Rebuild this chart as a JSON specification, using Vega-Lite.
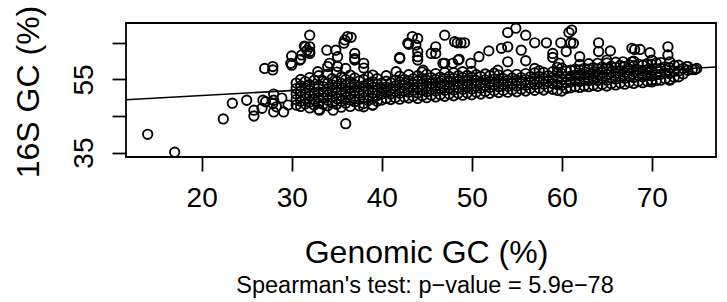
{
  "$schema": "https://vega.github.io/schema/vega-lite/v6.json",
  "autosize": {"type": "none"},
  "width": 590,
  "height": 134,
  "padding": {"left": 126, "top": 23, "right": 11, "bottom": 145},
  "background": "white",
  "config": {
    "view": {"stroke": "black", "strokeWidth": 1.8},
    "font": "Liberation Sans"
  },
  "title": {
    "text": "Spearman's test: p\u2212value = 5.9e\u221278",
    "orient": "bottom",
    "anchor": "middle",
    "fontSize": 23.5,
    "fontWeight": "normal",
    "font": "Liberation Sans",
    "color": "black",
    "offset": 6,
    "dx": 4
  },
  "datasets": {
    "fit": [{"x": 11.59, "y": 49.45}, {"x": 77.14, "y": 58.4}],
    "pts": [
      {"x":14.0,"y":40.0},{"x":17.0,"y":35.1},{"x":22.4,"y":44.2},{"x":23.4,"y":48.5},{"x":25.0,"y":49.3},{"x":25.8,"y":46.6},{"x":25.8,"y":45.0},{"x":26.7,"y":47.1},{"x":26.8,"y":49.3},{"x":27.0,"y":58.0},{"x":27.9,"y":58.5},{"x":27.9,"y":57.6},{"x":28.0,"y":51.0},{"x":28.0,"y":49.3},{"x":27.9,"y":48.4},{"x":27.1,"y":48.9},{"x":28.0,"y":46.1},{"x":28.3,"y":47.5},{"x":28.9,"y":49.9},{"x":29.1,"y":46.1},{"x":29.6,"y":48.0},{"x":29.9,"y":59.4},{"x":30.0,"y":61.4},{"x":30.0,"y":58.9},{"x":30.9,"y":60.3},{"x":31.1,"y":61.7},{"x":31.4,"y":64.1},{"x":31.5,"y":63.9},{"x":31.7,"y":63.0},{"x":32.0,"y":67.1},{"x":32.0,"y":63.9},{"x":32.0,"y":62.6},{"x":32.0,"y":62.1},{"x":31.0,"y":60.5},
      {"x":33.9,"y":63.0},{"x":34.9,"y":63.0},{"x":35.1,"y":61.2},{"x":34.2,"y":59.4},{"x":36.2,"y":66.7},{"x":36.6,"y":66.5},{"x":35.8,"y":64.9},{"x":37.0,"y":62.1},{"x":37.0,"y":60.3},{"x":38.0,"y":59.4},{"x":32.9,"y":57.1},{"x":34.0,"y":58.5},{"x":35.1,"y":58.5},{"x":36.0,"y":58.0},{"x":39.0,"y":56.2},{"x":42.0,"y":61.0},{"x":41.6,"y":57.1},{"x":42.9,"y":64.9},{"x":43.4,"y":66.7},{"x":44.0,"y":66.2},{"x":43.8,"y":64.4},{"x":44.0,"y":62.6},{"x":44.0,"y":61.2},{"x":44.0,"y":60.3},{"x":44.6,"y":57.5},{"x":36.0,"y":42.9},{"x":34.6,"y":46.6},{"x":33.1,"y":46.6},{"x":38.0,"y":47.5},{"x":39.0,"y":48.0},{"x":35.9,"y":65.8},{"x":38.0,"y":58.1},{"x":37.0,"y":60.7},
      {"x":47.0,"y":67.1},{"x":48.1,"y":65.3},{"x":48.4,"y":65.0},{"x":48.8,"y":65.0},{"x":49.2,"y":65.0},{"x":46.0,"y":63.9},{"x":45.5,"y":62.1},{"x":46.0,"y":62.1},{"x":48.6,"y":60.5},{"x":47.0,"y":59.4},{"x":47.9,"y":59.4},{"x":49.9,"y":59.4},{"x":50.8,"y":61.2},{"x":51.9,"y":62.8},{"x":53.3,"y":63.5},{"x":54.0,"y":67.8},{"x":54.9,"y":69.0},{"x":54.0,"y":63.9},{"x":56.0,"y":67.1},{"x":55.5,"y":63.0},{"x":57.0,"y":65.0},{"x":58.3,"y":65.0},{"x":54.0,"y":59.8},{"x":56.0,"y":60.1},{"x":57.0,"y":58.0},{"x":59.0,"y":62.1},{"x":59.0,"y":61.0},{"x":59.7,"y":59.4},{"x":59.9,"y":65.0},{"x":60.8,"y":67.8},{"x":61.0,"y":65.0},{"x":60.5,"y":62.6},{"x":52.9,"y":57.5},{"x":46.8,"y":59.4},{"x":48.5,"y":60.3},{"x":42.0,"y":60.7},{"x":43.0,"y":64.6},
      {"x":61.1,"y":68.5},{"x":61.3,"y":64.9},{"x":62.0,"y":61.2},{"x":64.1,"y":65.0},{"x":64.1,"y":62.6},{"x":65.4,"y":62.8},{"x":66.8,"y":59.8},{"x":67.8,"y":63.5},{"x":68.1,"y":63.2},{"x":68.7,"y":63.2},{"x":69.8,"y":62.3},{"x":67.8,"y":59.8},{"x":71.8,"y":63.9},{"x":71.8,"y":61.7},{"x":65.0,"y":60.3},{"x":73.0,"y":58.9},{"x":73.9,"y":58.5},{"x":74.8,"y":57.7},{"x":73.0,"y":55.7},{"x":72.0,"y":54.8},{"x":70.0,"y":54.8},
      {"x":30.5,"y":48.0},{"x":30.5,"y":49.5},{"x":30.5,"y":51.0},{"x":30.5,"y":52.5},{"x":30.5,"y":54.0},
      {"x":31.0,"y":47.6},{"x":31.0,"y":49.0},{"x":31.0,"y":50.3},{"x":31.0,"y":51.8},{"x":31.0,"y":53.2},{"x":31.0,"y":55.0},
      {"x":31.5,"y":48.3},{"x":31.5,"y":49.8},{"x":31.5,"y":51.2},{"x":31.5,"y":52.6},{"x":31.5,"y":54.4},
      {"x":32.0,"y":47.2},{"x":32.0,"y":48.8},{"x":32.0,"y":50.5},{"x":32.0,"y":52.0},{"x":32.0,"y":53.6},{"x":32.0,"y":55.5},
      {"x":32.5,"y":48.0},{"x":32.5,"y":49.6},{"x":32.5,"y":51.3},{"x":32.5,"y":52.9},{"x":32.5,"y":54.8},
      {"x":33.0,"y":46.8},{"x":33.0,"y":48.5},{"x":33.0,"y":50.0},{"x":33.0,"y":51.6},{"x":33.0,"y":53.3},{"x":33.0,"y":56.0},
      {"x":33.5,"y":48.2},{"x":33.5,"y":49.9},{"x":33.5,"y":51.5},{"x":33.5,"y":53.0},{"x":33.5,"y":54.6},
      {"x":34.0,"y":47.8},{"x":34.0,"y":49.3},{"x":34.0,"y":50.8},{"x":34.0,"y":52.4},{"x":34.0,"y":54.0},{"x":34.0,"y":56.4},
      {"x":34.5,"y":48.6},{"x":34.5,"y":50.2},{"x":34.5,"y":51.9},{"x":34.5,"y":53.5},{"x":34.5,"y":55.2},
      {"x":35.0,"y":48.2},{"x":35.0,"y":49.7},{"x":35.0,"y":51.3},{"x":35.0,"y":52.8},{"x":35.0,"y":54.5},{"x":35.0,"y":57.0},
      {"x":35.5,"y":47.4},{"x":35.5,"y":49.0},{"x":35.5,"y":50.6},{"x":35.5,"y":52.2},{"x":35.5,"y":53.9},{"x":35.5,"y":55.6},
      {"x":36.0,"y":48.5},{"x":36.0,"y":50.1},{"x":36.0,"y":51.7},{"x":36.0,"y":53.4},{"x":36.0,"y":55.0},
      {"x":36.5,"y":47.6},{"x":36.5,"y":49.4},{"x":36.5,"y":51.0},{"x":36.5,"y":52.7},{"x":36.5,"y":54.3},{"x":36.5,"y":56.2},
      {"x":37.0,"y":48.9},{"x":37.0,"y":50.4},{"x":37.0,"y":52.0},{"x":37.0,"y":53.6},{"x":37.0,"y":55.4},
      {"x":37.5,"y":47.8},{"x":37.5,"y":49.6},{"x":37.5,"y":51.2},{"x":37.5,"y":52.9},{"x":37.5,"y":54.6},
      {"x":38.0,"y":48.4},{"x":38.0,"y":50.0},{"x":38.0,"y":51.6},{"x":38.0,"y":53.2},{"x":38.0,"y":55.0},
      {"x":38.5,"y":49.2},{"x":38.5,"y":50.7},{"x":38.5,"y":52.3},{"x":38.5,"y":53.9},{"x":38.5,"y":55.7},
      {"x":39.0,"y":48.0},{"x":39.0,"y":49.7},{"x":39.0,"y":51.3},{"x":39.0,"y":52.8},{"x":39.0,"y":54.4},
      {"x":39.5,"y":49.0},{"x":39.5,"y":50.6},{"x":39.5,"y":52.1},{"x":39.5,"y":53.7},{"x":39.5,"y":55.2},
      {"x":40.0,"y":49.4},{"x":40.0,"y":51.0},{"x":40.0,"y":52.5},{"x":40.0,"y":54.0},
      {"x":40.5,"y":49.8},{"x":40.5,"y":51.4},{"x":40.5,"y":52.9},{"x":40.5,"y":54.5},{"x":40.5,"y":56.0},
      {"x":41.0,"y":49.5},{"x":41.0,"y":51.0},{"x":41.0,"y":52.6},{"x":41.0,"y":54.1},
      {"x":41.5,"y":50.0},{"x":41.5,"y":51.6},{"x":41.5,"y":53.2},{"x":41.5,"y":54.8},
      {"x":42.0,"y":49.6},{"x":42.0,"y":51.2},{"x":42.0,"y":52.7},{"x":42.0,"y":54.3},{"x":42.0,"y":55.9},
      {"x":42.5,"y":50.2},{"x":42.5,"y":51.8},{"x":42.5,"y":53.4},{"x":42.5,"y":55.0},
      {"x":43.0,"y":49.9},{"x":43.0,"y":51.5},{"x":43.0,"y":53.0},{"x":43.0,"y":54.6},{"x":43.0,"y":56.3},
      {"x":43.5,"y":50.4},{"x":43.5,"y":52.0},{"x":43.5,"y":53.6},{"x":43.5,"y":55.2},
      {"x":44.0,"y":49.8},{"x":44.0,"y":51.3},{"x":44.0,"y":52.9},{"x":44.0,"y":54.5},{"x":44.0,"y":56.0},
      {"x":44.5,"y":50.5},{"x":44.5,"y":52.1},{"x":44.5,"y":53.7},{"x":44.5,"y":55.3},{"x":44.5,"y":57.0},
      {"x":45.0,"y":50.0},{"x":45.0,"y":51.6},{"x":45.0,"y":53.2},{"x":45.0,"y":54.8},{"x":45.0,"y":56.4},
      {"x":45.5,"y":50.7},{"x":45.5,"y":52.3},{"x":45.5,"y":53.9},{"x":45.5,"y":55.5},
      {"x":46.0,"y":50.2},{"x":46.0,"y":51.8},{"x":46.0,"y":53.4},{"x":46.0,"y":55.0},{"x":46.0,"y":56.6},
      {"x":46.5,"y":50.8},{"x":46.5,"y":52.4},{"x":46.5,"y":54.0},{"x":46.5,"y":55.6},
      {"x":47.0,"y":50.4},{"x":47.0,"y":52.0},{"x":47.0,"y":53.6},{"x":47.0,"y":55.2},{"x":47.0,"y":56.9},
      {"x":47.5,"y":51.0},{"x":47.5,"y":52.6},{"x":47.5,"y":54.2},{"x":47.5,"y":55.8},
      {"x":48.0,"y":50.5},{"x":48.0,"y":52.1},{"x":48.0,"y":53.7},{"x":48.0,"y":55.3},{"x":48.0,"y":56.8},
      {"x":48.5,"y":51.2},{"x":48.5,"y":52.8},{"x":48.5,"y":54.4},{"x":48.5,"y":56.0},
      {"x":49.0,"y":50.7},{"x":49.0,"y":52.3},{"x":49.0,"y":53.9},{"x":49.0,"y":55.5},{"x":49.0,"y":57.1},
      {"x":49.5,"y":51.3},{"x":49.5,"y":52.9},{"x":49.5,"y":54.5},{"x":49.5,"y":56.1},
      {"x":50.0,"y":50.8},{"x":50.0,"y":52.4},{"x":50.0,"y":54.0},{"x":50.0,"y":55.6},{"x":50.0,"y":57.2},
      {"x":50.5,"y":51.5},{"x":50.5,"y":53.1},{"x":50.5,"y":54.7},{"x":50.5,"y":56.3},
      {"x":51.0,"y":51.0},{"x":51.0,"y":52.6},{"x":51.0,"y":54.2},{"x":51.0,"y":55.8},
      {"x":51.5,"y":51.7},{"x":51.5,"y":53.3},{"x":51.5,"y":54.9},{"x":51.5,"y":56.5},
      {"x":52.0,"y":51.2},{"x":52.0,"y":52.8},{"x":52.0,"y":54.4},{"x":52.0,"y":56.0},
      {"x":52.5,"y":51.9},{"x":52.5,"y":53.5},{"x":52.5,"y":55.1},{"x":52.5,"y":56.7},
      {"x":53.0,"y":51.4},{"x":53.0,"y":53.0},{"x":53.0,"y":54.6},{"x":53.0,"y":56.2},
      {"x":53.5,"y":52.0},{"x":53.5,"y":53.6},{"x":53.5,"y":55.2},
      {"x":54.0,"y":51.5},{"x":54.0,"y":53.1},{"x":54.0,"y":54.7},{"x":54.0,"y":56.3},
      {"x":54.5,"y":52.2},{"x":54.5,"y":53.8},{"x":54.5,"y":55.4},
      {"x":55.0,"y":51.6},{"x":55.0,"y":53.2},{"x":55.0,"y":54.8},{"x":55.0,"y":56.4},
      {"x":55.5,"y":52.3},{"x":55.5,"y":53.9},{"x":55.5,"y":55.5},
      {"x":56.0,"y":51.8},{"x":56.0,"y":53.4},{"x":56.0,"y":55.0},{"x":56.0,"y":56.6},
      {"x":56.5,"y":52.5},{"x":56.5,"y":54.1},{"x":56.5,"y":55.7},
      {"x":57.0,"y":52.0},{"x":57.0,"y":53.6},{"x":57.0,"y":55.2},{"x":57.0,"y":56.8},
      {"x":57.5,"y":52.6},{"x":57.5,"y":54.2},{"x":57.5,"y":55.8},{"x":57.5,"y":57.4},
      {"x":58.0,"y":52.1},{"x":58.0,"y":53.7},{"x":58.0,"y":55.3},{"x":58.0,"y":56.9},
      {"x":58.5,"y":52.8},{"x":58.5,"y":54.4},{"x":58.5,"y":56.0},
      {"x":59.0,"y":52.3},{"x":59.0,"y":53.9},{"x":59.0,"y":55.5},{"x":59.0,"y":57.1},
      {"x":59.5,"y":52.0},{"x":59.5,"y":53.6},{"x":59.5,"y":55.2},{"x":59.5,"y":56.8},{"x":59.5,"y":58.3},
      {"x":60.0,"y":51.8},{"x":60.0,"y":53.4},{"x":60.0,"y":55.0},{"x":60.0,"y":56.6},{"x":60.0,"y":58.1},
      {"x":60.5,"y":52.5},{"x":60.5,"y":54.1},{"x":60.5,"y":55.7},{"x":60.5,"y":57.3},
      {"x":61.0,"y":52.7},{"x":61.0,"y":54.3},{"x":61.0,"y":55.9},{"x":61.0,"y":57.5},
      {"x":61.5,"y":53.0},{"x":61.5,"y":54.6},{"x":61.5,"y":56.2},{"x":61.5,"y":57.8},
      {"x":62.0,"y":52.8},{"x":62.0,"y":54.4},{"x":62.0,"y":56.0},{"x":62.0,"y":57.6},{"x":62.0,"y":59.1},
      {"x":62.5,"y":53.2},{"x":62.5,"y":54.8},{"x":62.5,"y":56.4},{"x":62.5,"y":58.0},
      {"x":63.0,"y":53.0},{"x":63.0,"y":54.6},{"x":63.0,"y":56.2},{"x":63.0,"y":57.8},{"x":63.0,"y":59.3},
      {"x":63.5,"y":53.4},{"x":63.5,"y":55.0},{"x":63.5,"y":56.6},{"x":63.5,"y":58.2},
      {"x":64.0,"y":53.1},{"x":64.0,"y":54.7},{"x":64.0,"y":56.3},{"x":64.0,"y":57.9},{"x":64.0,"y":59.4},
      {"x":64.5,"y":53.6},{"x":64.5,"y":55.2},{"x":64.5,"y":56.8},{"x":64.5,"y":58.4},
      {"x":65.0,"y":53.2},{"x":65.0,"y":54.8},{"x":65.0,"y":56.4},{"x":65.0,"y":58.0},{"x":65.0,"y":59.5},
      {"x":65.5,"y":53.8},{"x":65.5,"y":55.4},{"x":65.5,"y":57.0},{"x":65.5,"y":58.6},
      {"x":66.0,"y":53.5},{"x":66.0,"y":55.1},{"x":66.0,"y":56.7},{"x":66.0,"y":58.3},{"x":66.0,"y":59.7},
      {"x":66.5,"y":54.0},{"x":66.5,"y":55.6},{"x":66.5,"y":57.2},{"x":66.5,"y":58.8},
      {"x":67.0,"y":53.7},{"x":67.0,"y":55.3},{"x":67.0,"y":56.9},{"x":67.0,"y":58.5},
      {"x":67.5,"y":54.2},{"x":67.5,"y":55.8},{"x":67.5,"y":57.4},{"x":67.5,"y":59.0},
      {"x":68.0,"y":53.9},{"x":68.0,"y":55.5},{"x":68.0,"y":57.1},{"x":68.0,"y":58.7},{"x":68.0,"y":60.0},
      {"x":68.5,"y":54.4},{"x":68.5,"y":56.0},{"x":68.5,"y":57.6},{"x":68.5,"y":59.2},
      {"x":69.0,"y":54.1},{"x":69.0,"y":55.7},{"x":69.0,"y":57.3},{"x":69.0,"y":58.9},
      {"x":69.5,"y":54.5},{"x":69.5,"y":56.1},{"x":69.5,"y":57.7},{"x":69.5,"y":59.3},
      {"x":70.0,"y":54.3},{"x":70.0,"y":55.9},{"x":70.0,"y":57.5},{"x":70.0,"y":59.1},{"x":70.0,"y":60.3},
      {"x":70.5,"y":54.7},{"x":70.5,"y":56.3},{"x":70.5,"y":57.9},{"x":70.5,"y":59.5},
      {"x":71.0,"y":54.8},{"x":71.0,"y":56.4},{"x":71.0,"y":58.0},{"x":71.0,"y":59.6},
      {"x":71.5,"y":55.2},{"x":71.5,"y":56.8},{"x":71.5,"y":58.4},
      {"x":72.0,"y":55.0},{"x":72.0,"y":56.6},{"x":72.0,"y":58.2},{"x":72.0,"y":59.8},
      {"x":72.5,"y":55.6},{"x":72.5,"y":57.2},{"x":72.5,"y":58.8},
      {"x":73.0,"y":57.3},{"x":73.5,"y":56.5},{"x":73.5,"y":58.0},
      {"x":74.0,"y":57.5},{"x":74.0,"y":58.5},{"x":74.5,"y":57.7},{"x":75.0,"y":58.0}
    ]
  },
  "layer": [
    {
      "data": {"name": "pts"},
      "mark": {"type": "point", "shape": "circle", "filled": false, "stroke": "black", "strokeWidth": 1.9, "size": 88, "opacity": 1},
      "encoding": {
        "x": {
          "field": "x", "type": "quantitative",
          "scale": {"domain": [11.59, 77.14], "nice": false, "zero": false},
          "axis": {
            "values": [20, 30, 40, 50, 60, 70],
            "domain": false, "grid": false,
            "tickSize": 14, "tickWidth": 1.8, "tickColor": "black",
            "labelFontSize": 28, "labelFont": "Liberation Sans", "labelColor": "black",
            "labelBaseline": "alphabetic", "labelPadding": 35, "labelFlush": false,
            "title": "Genomic GC (%)", "titleFontSize": 32, "titleFontWeight": "normal",
            "titleFont": "Liberation Sans", "titleColor": "black",
            "titleBaseline": "alphabetic", "titleAlign": "center", "titleX": 300, "titleY": 105
          }
        },
        "y": {
          "field": "y", "type": "quantitative",
          "scale": {"domain": [33.79, 70.42], "nice": false, "zero": false},
          "axis": {
            "values": [35, 40, 45, 50, 55, 60, 65, 70],
            "labelExpr": "datum.value == 35 || datum.value == 55 ? datum.label : ''",
            "domain": false, "grid": false,
            "tickSize": 14, "tickWidth": 1.8, "tickColor": "black",
            "labelFontSize": 28, "labelFont": "Liberation Sans", "labelColor": "black",
            "labelAngle": -90, "labelAlign": "center", "labelBaseline": "alphabetic",
            "labelPadding": 20, "labelFlush": false, "labelOverlap": false,
            "title": "16S GC (%)", "titleFontSize": 32, "titleFontWeight": "normal",
            "titleFont": "Liberation Sans", "titleColor": "black",
            "titleAngle": -90, "titleBaseline": "alphabetic", "titleAlign": "center",
            "titleX": -87.5, "titleY": 68.5
          }
        }
      }
    },
    {
      "data": {"name": "fit"},
      "mark": {"type": "line", "color": "black", "strokeWidth": 1.6},
      "encoding": {
        "x": {"field": "x", "type": "quantitative"},
        "y": {"field": "y", "type": "quantitative"}
      }
    }
  ]
}
